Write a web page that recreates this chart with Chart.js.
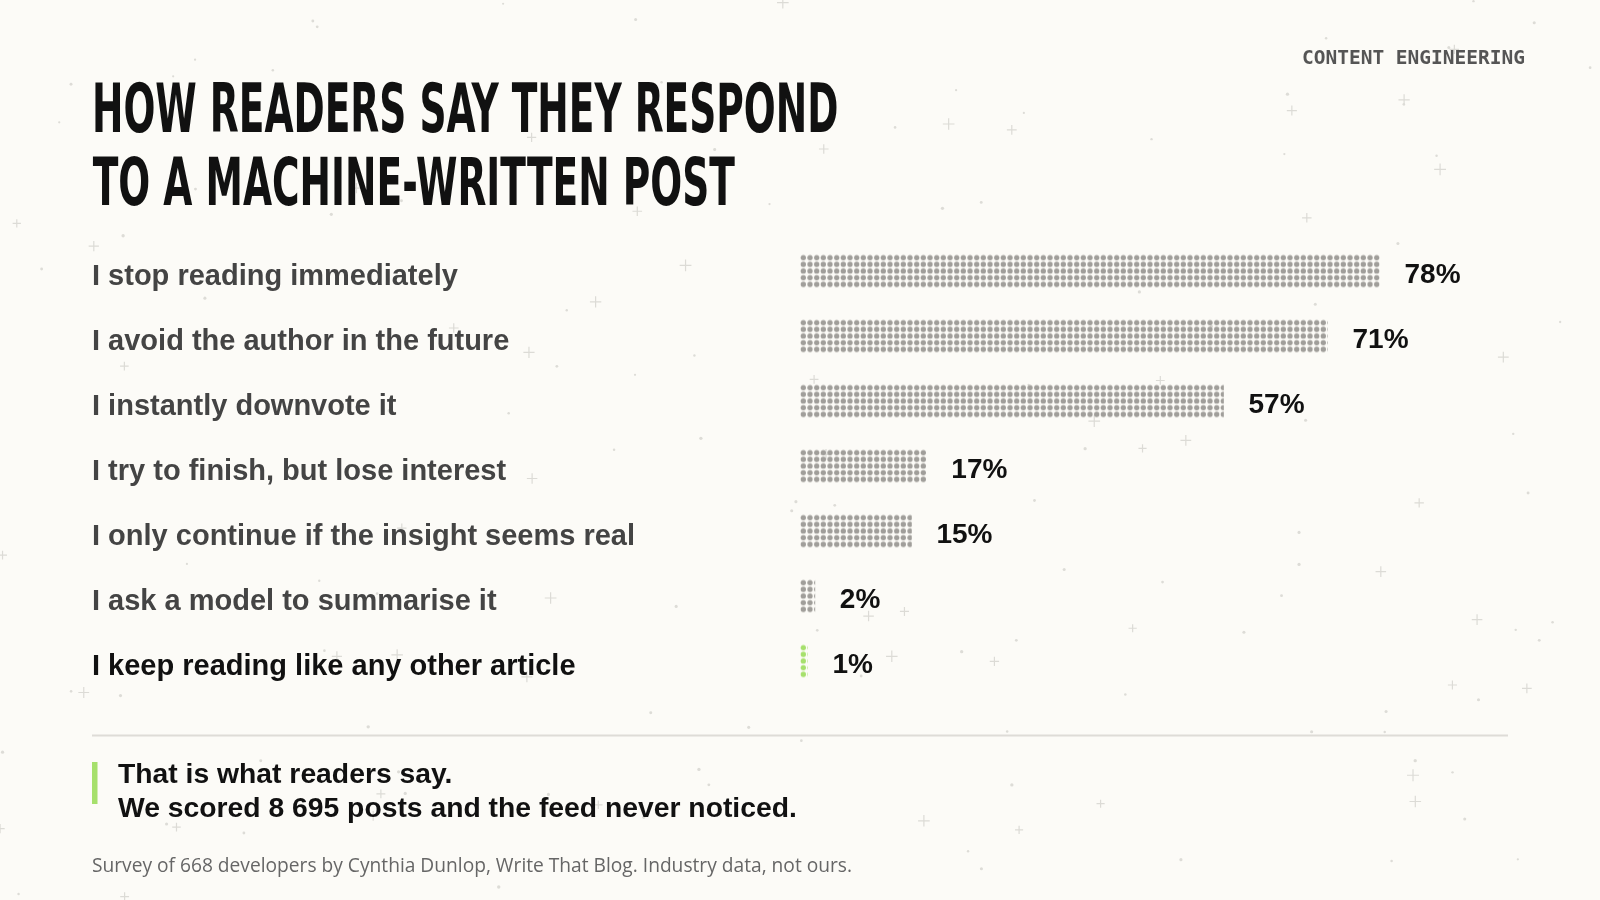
<!DOCTYPE html>
<html>
<head>
<meta charset="utf-8">
<title>How readers say they respond to a machine-written post</title>
<script src="https://cdn.jsdelivr.net/npm/chart.js@4.4.1/dist/chart.umd.min.js"></script>
<style>
  html, body { margin: 0; padding: 0; background: #fcfbf7; }
  #wrap { position: relative; width: 1600px; height: 900px; }
</style>
</head>
<body>
<div id="wrap"><canvas id="surveyChart" width="1600" height="900"></canvas></div>
<script>
// survey answers, top to bottom
const categories = [
    'I stop reading immediately',
    'I avoid the author in the future',
    'I instantly downvote it',
    'I try to finish, but lose interest',
    'I only continue if the insight seems real',
    'I ask a model to summarise it',
    'I keep reading like any other article'
];
const shares = [78, 71, 57, 17, 15, 2, 1];
const highlightIndex = 6;

const titleLines = ['HOW READERS SAY THEY RESPOND', 'TO A MACHINE-WRITTEN POST'];
const kicker = 'CONTENT ENGINEERING';
const calloutLines = ['That is what readers say.', 'We scored 8 695 posts and the feed never noticed.'];
const sourceNote = 'Survey of 668 developers by Cynthia Dunlop, Write That Blog. Industry data, not ours.';

const GREY_DOT = '#a09e9a';
const GREEN_DOT = '#a6e06c';
const BAR_H = 33.33;
const PITCH = 20 / 3;

// dotted fill, aligned to the bar's own corner
function dotPattern(ctx, color, ox, oy) {
    const tile = document.createElement('canvas');
    tile.width = 20;
    tile.height = 20;
    const t = tile.getContext('2d');
    t.fillStyle = color;
    for (let i = 0; i < 3; i++) {
        for (let j = 0; j < 3; j++) {
            t.beginPath();
            t.arc(PITCH / 2 + i * PITCH, PITCH / 2 + j * PITCH, 2.65, 0, Math.PI * 2);
            t.fill();
        }
    }
    const p = ctx.createPattern(tile, 'repeat');
    p.setTransform(new DOMMatrix([1, 0, 0, 1, ox, oy]));
    return p;
}

// background specks and crosses (decoration only)
function drawSpecks(ctx) {
    let seed = 7;
    const rnd = () => { seed = (seed * 16807) % 2147483647; return seed / 2147483647; };
    ctx.save();
    ctx.strokeStyle = '#dcdbd6';
    ctx.lineWidth = 1.2;
    for (let i = 0; i < 55; i++) {
        const x = rnd() * 1600, y = rnd() * 900, s = 4 + rnd() * 2;
        ctx.beginPath();
        ctx.moveTo(x - s, y); ctx.lineTo(x + s, y);
        ctx.moveTo(x, y - s); ctx.lineTo(x, y + s);
        ctx.stroke();
    }
    ctx.fillStyle = '#dddcd7';
    for (let i = 0; i < 110; i++) {
        ctx.beginPath();
        ctx.arc(rnd() * 1600, rnd() * 900, 1.1 + rnd() * 0.6, 0, Math.PI * 2);
        ctx.fill();
    }
    ctx.restore();
}

// fit a line of text to an ink box
function fitText(ctx, text, left, right, capTop, baseline) {
    const m = ctx.measureText(text);
    const cap = ctx.measureText('H').actualBoundingBoxAscent;
    const inkW = m.actualBoundingBoxLeft + m.actualBoundingBoxRight;
    const sx = (right - left) / inkW;
    const sy = (baseline - capTop) / cap;
    ctx.save();
    ctx.translate(left, baseline);
    ctx.scale(sx, sy);
    ctx.fillText(text, m.actualBoundingBoxLeft, 0);
    ctx.restore();
}

const pagePlugin = {
    id: 'page',
    beforeDraw(chart) {
        const ctx = chart.ctx;
        ctx.save();
        ctx.fillStyle = '#fcfbf7';
        ctx.fillRect(0, 0, chart.width, chart.height);
        drawSpecks(ctx);
        ctx.restore();
    },
    afterDraw(chart) {
        const ctx = chart.ctx;
        ctx.save();
        ctx.textBaseline = 'alphabetic';

        // title
        ctx.fillStyle = '#111111';
        ctx.font = "bold 70px 'Liberation Sans Narrow', 'DejaVu Sans Condensed', Roboto, sans-serif";
        fitText(ctx, titleLines[0], 95, 837, 82.7, 131.7);
        fitText(ctx, titleLines[1], 92.7, 735, 157, 205);

        // kicker
        ctx.fillStyle = '#555555';
        ctx.font = "bold 19.5px 'DejaVu Sans Mono', 'Liberation Mono', monospace";
        ctx.textAlign = 'right';
        ctx.fillText(kicker, 1525, 64);
        ctx.textAlign = 'left';

        // divider
        ctx.strokeStyle = '#dedcd7';
        ctx.lineWidth = 2;
        ctx.beginPath();
        ctx.moveTo(92, 735.5);
        ctx.lineTo(1508, 735.5);
        ctx.stroke();

        // callout
        ctx.fillStyle = GREEN_DOT;
        ctx.fillRect(92, 762, 5.5, 42);
        ctx.fillStyle = '#111111';
        ctx.font = "bold 28.3px 'Liberation Sans', Arial, sans-serif";
        ctx.fillText(calloutLines[0], 118, 783);
        ctx.fillText(calloutLines[1], 118, 817);

        // source
        ctx.fillStyle = '#666666';
        ctx.font = "20px 'Open Sans', 'Noto Sans', sans-serif";
        const w = ctx.measureText(sourceNote).width;
        ctx.save();
        ctx.translate(92, 872);
        ctx.scale(760 / w, 1);
        ctx.fillText(sourceNote, 0, 0);
        ctx.restore();
        ctx.restore();
    },
    afterDatasetsDraw(chart) {
        const ctx = chart.ctx;
        const meta = chart.getDatasetMeta(0);
        ctx.save();
        ctx.fillStyle = '#111111';
        ctx.font = "bold 28px 'Liberation Sans', Arial, sans-serif";
        ctx.textBaseline = 'middle';
        ctx.textAlign = 'left';
        meta.data.forEach((bar, i) => {
            ctx.fillText(shares[i] + '%', bar.x + 25, bar.y + 4);
        });
        ctx.restore();
    }
};

new Chart(document.getElementById('surveyChart'), {
    type: 'bar',
    data: {
        labels: categories,
        datasets: [{
            data: shares,
            barThickness: BAR_H,
            borderWidth: 0,
            backgroundColor: (c) => {
                const color = c.dataIndex === highlightIndex ? GREEN_DOT : GREY_DOT;
                const x = c.chart.scales.x, y = c.chart.scales.y;
                if (!x || !y) return color;
                const top = y.getPixelForValue(c.dataIndex) - BAR_H / 2;
                const left = x.getPixelForValue(0);
                if (!isFinite(top) || !isFinite(left)) return color;
                return dotPattern(c.chart.ctx, color, left, top);
            }
        }]
    },
    options: {
        indexAxis: 'y',
        responsive: false,
        devicePixelRatio: 1,
        animation: false,
        layout: { padding: { top: 238.5, bottom: 206.5, left: 92, right: 57 } },
        plugins: { legend: { display: false }, tooltip: { enabled: false } },
        scales: {
            x: { display: false, min: 0, max: 100 },
            y: {
                grid: { display: false },
                border: { display: false },
                afterFit: (scale) => { scale.width = 708; },
                ticks: {
                    crossAlign: 'far',
                    padding: 0,
                    labelOffset: 6,
                    font: { family: "'Liberation Sans', Arial, sans-serif", weight: 'bold', size: 29 },
                    color: (c) => c.index === highlightIndex ? '#111111' : '#444444'
                }
            }
        }
    },
    plugins: [pagePlugin]
});
</script>
</body>
</html>
